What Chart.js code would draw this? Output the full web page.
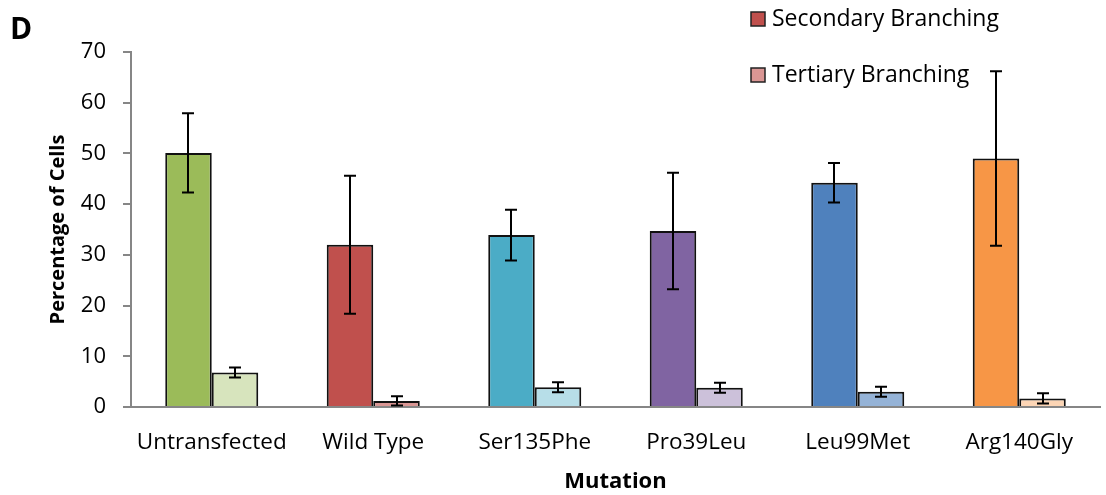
<!DOCTYPE html>
<html>
<head>
<meta charset="utf-8">
<script src="https://cdn.jsdelivr.net/npm/chart.js@4.4.0/dist/chart.umd.min.js"></script>
<style>
  html, body { margin: 0; padding: 0; background: #fff; }
  #wrap { width: 1106px; height: 495px; position: relative; }
</style>
</head>
<body>
<div id="wrap"><canvas id="branching"></canvas></div>
<script>
const categories = ["Untransfected", "Wild Type", "Ser135Phe", "Pro39Leu", "Leu99Met", "Arg140Gly"];
const secondaryValues = [50.1, 32.0, 33.9, 34.7, 44.2, 49.0];
const secondaryErrors = [7.8, 13.6, 5.0, 11.5, 3.9, 17.2];
const tertiaryValues = [6.8, 1.2, 3.9, 3.8, 3.0, 1.7];
const tertiaryErrors = [1.0, 0.9, 1.0, 1.0, 1.0, 1.0];
const yTicks = [0, 10, 20, 30, 40, 50, 60, 70];

const secondaryColors = ["#9BBB59", "#C0504D", "#4BACC6", "#8064A2", "#4F81BD", "#F79646"];
const tertiaryColors = ["#D7E4BD", "#DA9694", "#B7DEE8", "#CCC1DA", "#95B3D7", "#FCD5B5"];
const legendColors = ["#C0504D", "#DA9694"];

const FONT = "'Open Sans', Lato, sans-serif";

// error bars drawn on top of each bar
const errorBars = {
  id: "errorBars",
  afterDatasetsDraw(chart) {
    const ctx = chart.ctx;
    const y = chart.scales.y;
    ctx.save();
    ctx.strokeStyle = "#000";
    ctx.lineWidth = 2;
    chart.data.datasets.forEach((ds, i) => {
      const meta = chart.getDatasetMeta(i);
      meta.data.forEach((bar, j) => {
        const v = ds.data[j], e = ds.errors[j];
        const top = y.getPixelForValue(v + e);
        const bot = y.getPixelForValue(v - e);
        const x = Math.round(bar.x);
        ctx.beginPath();
        ctx.moveTo(x, top); ctx.lineTo(x, bot);
        ctx.moveTo(x - 6, top); ctx.lineTo(x + 6, top);
        ctx.moveTo(x - 6, bot); ctx.lineTo(x + 6, bot);
        ctx.stroke();
      });
    });
    ctx.restore();
  }
};

// panel letter + stacked legend in the top right
const extras = {
  id: "extras",
  afterDraw(chart) {
    const ctx = chart.ctx;
    ctx.save();
    ctx.fillStyle = "#000";
    ctx.font = "bold 30px " + FONT;
    ctx.textBaseline = "alphabetic";
    ctx.fillText("D", 10, 39);

    ctx.font = "23px " + FONT;
    ctx.textBaseline = "middle";
    const rows = [19, 75];
    chart.data.datasets.forEach((ds, i) => {
      const ty = rows[i];
      ctx.fillStyle = legendColors[i];
      ctx.fillRect(751, ty - 7, 14, 14);
      ctx.strokeStyle = "#222";
      ctx.lineWidth = 1.5;
      ctx.strokeRect(751, ty - 7, 14, 14);
      ctx.fillStyle = "#000";
      ctx.fillText(ds.label, 772, ty);
    });
    ctx.restore();
  }
};

new Chart(document.getElementById("branching"), {
  type: "bar",
  data: {
    labels: categories,
    datasets: [
      {
        label: "Secondary Branching",
        data: secondaryValues,
        errors: secondaryErrors,
        backgroundColor: secondaryColors,
        borderColor: "#111",
        borderWidth: 2,
      },
      {
        label: "Tertiary Branching",
        data: tertiaryValues,
        errors: tertiaryErrors,
        backgroundColor: tertiaryColors,
        borderColor: "#111",
        borderWidth: 2,
      },
    ],
  },
  options: {
    responsive: true,
    maintainAspectRatio: false,
    animation: false,
    categoryPercentage: 0.576,
    barPercentage: 1.0,
    layout: { padding: { top: 52, right: 6, left: 0, bottom: 0 } },
    plugins: {
      legend: { display: false },
      tooltip: { enabled: false },
    },
    scales: {
      y: {
        min: 0,
        max: 70,
        afterBuildTicks: (scale) => {
          scale.ticks = yTicks.map((v) => ({ value: v }));
        },
        afterFit: (scale) => { scale.width = 131; },
        grid: { drawOnChartArea: false, drawTicks: true, tickLength: 8, color: "#868686", lineWidth: 2 },
        border: { display: true, color: "#868686", width: 2 },
        ticks: { color: "#000", padding: 17, font: { family: FONT, size: 22 } },
        title: {
          display: true,
          text: "Percentage of Cells",
          color: "#000",
          padding: { top: 46 },
          font: { family: FONT, size: 20, weight: "bold" },
        },
      },
      x: {
        afterFit: (scale) => { scale.height = 88; },
        grid: { display: false },
        border: { display: true, color: "#868686", width: 2 },
        ticks: { color: "#000", padding: 14, maxRotation: 0, font: { family: FONT, size: 22.5 } },
        title: {
          display: true,
          text: "Mutation",
          color: "#000",
          padding: { bottom: 0 },
          font: { family: FONT, size: 22, weight: "bold" },
        },
      },
    },
  },
  plugins: [errorBars, extras],
});
</script>
</body>
</html>
